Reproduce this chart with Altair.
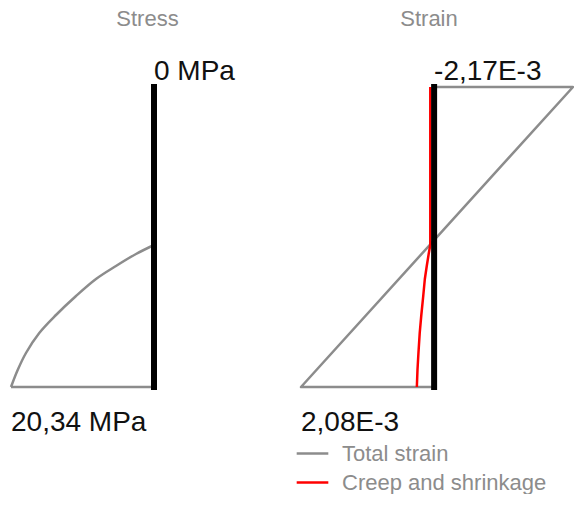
import altair as alt
import pandas as pd

FONT = "Liberation Sans"
GRAY = "#8c8c8c"

# Section height (mm), bottom to top
section_z = [0, 300]

# Stress block (MPa) along the height z (mm)
stress_curve_z = [142, 133, 121, 108, 91, 72, 54, 34, 17, 0]
stress_curve_val = [0, 2.56, 5.41, 8.25, 11.09, 13.94, 16.32, 18.21, 19.39, 20.34]
stress_top = 0.0
stress_bottom = 20.34

# Strains (E-3)
strain_top = -2.17
strain_bottom = 2.08
total_z = [300, 300, 0, 0]
total_val = [0, strain_top, strain_bottom, 0]

creep_z = [300, 142, 133, 121, 108, 91, 72, 54, 34, 17, 0]
creep_val = [0.06, 0.06, 0.085, 0.115, 0.145, 0.17, 0.20, 0.225, 0.245, 0.26, 0.27]

series_names = ["Total strain", "Creep and shrinkage"]
series_colors = ["#8c8c8c", "#ff0000"]


def fmt(v, unit=""):
    return f"{v:.2f}".replace(".", ",") + unit


# ---------- data frames ----------
stress_df = pd.DataFrame({"z": stress_curve_z, "v": stress_curve_val,
                          "i": range(len(stress_curve_z))})
edge_df = pd.DataFrame({"v": [stress_bottom], "v2": [0.0], "z": [section_z[0]]})
bar_df = pd.DataFrame({"x": [0.0], "z": [section_z[1]], "z2": [section_z[0]]})

stress_lbl = pd.DataFrame({
    "v": [stress_top, stress_bottom],
    "z": [section_z[1], section_z[0]],
    "t": [f"{stress_top:g} MPa", fmt(stress_bottom, " MPa")],
    "pos": ["top", "bottom"],
})

strain_df = pd.concat([
    pd.DataFrame({"z": total_z, "v": total_val, "i": range(len(total_z)),
                  "s": series_names[0]}),
    pd.DataFrame({"z": creep_z, "v": creep_val, "i": range(len(creep_z)),
                  "s": series_names[1]}),
])
strain_lbl = pd.DataFrame({
    "v": [0.0, strain_bottom],
    "z": [section_z[1], section_z[0]],
    "t": [fmt(strain_top, "E-3"), fmt(strain_bottom, "E-3")],
    "pos": ["top", "bottom"],
})

yscale = alt.Scale(domain=[section_z[0], section_z[1]], nice=False, zero=False)
xs_stress = alt.Scale(domain=[0, stress_bottom], reverse=True, nice=False, zero=False)
xs_strain = alt.Scale(domain=[strain_top, strain_bottom], reverse=True, nice=False, zero=False)


def labels(df, xscale):
    top = alt.Chart(df[df.pos == "top"]).mark_text(
        align="left", baseline="alphabetic", dy=-7, fontSize=28, font=FONT, color="#111"
    ).encode(x=alt.X("v:Q", scale=xscale, axis=None),
             y=alt.Y("z:Q", scale=yscale, axis=None), text="t:N")
    bot = alt.Chart(df[df.pos == "bottom"]).mark_text(
        align="left", baseline="alphabetic", dy=44, fontSize=28, font=FONT, color="#111"
    ).encode(x=alt.X("v:Q", scale=xscale, axis=None),
             y=alt.Y("z:Q", scale=yscale, axis=None), text="t:N")
    return top + bot


def bar(xscale):
    return alt.Chart(bar_df).mark_rule(color="black", strokeWidth=6, strokeCap="square").encode(
        x=alt.X("x:Q", scale=xscale, axis=None),
        y=alt.Y("z:Q", scale=yscale, axis=None), y2="z2:Q")


stress_curve = alt.Chart(stress_df).mark_line(
    color=GRAY, strokeWidth=2.5, interpolate="catmull-rom", strokeJoin="round"
).encode(x=alt.X("v:Q", scale=xs_stress, axis=None),
         y=alt.Y("z:Q", scale=yscale, axis=None), order="i:Q")
stress_edge = alt.Chart(edge_df).mark_rule(color=GRAY, strokeWidth=2.5).encode(
    x=alt.X("v:Q", scale=xs_stress, axis=None), x2="v2:Q",
    y=alt.Y("z:Q", scale=yscale, axis=None))

stress_panel = alt.layer(
    stress_curve, stress_edge, bar(xs_stress), labels(stress_lbl, xs_stress)
).properties(
    width=143, height=300,
    title=alt.TitleParams("Stress", fontSize=22, color=GRAY, font=FONT, fontWeight="normal",
                          anchor="middle", baseline="alphabetic", offset=10, dx=65),
)

strain_lines = alt.Chart(strain_df).mark_line(
    strokeWidth=2.5, interpolate="linear", strokeJoin="round"
).encode(
    x=alt.X("v:Q", scale=xs_strain, axis=None),
    y=alt.Y("z:Q", scale=yscale, axis=None),
    order="i:Q",
    color=alt.Color("s:N", scale=alt.Scale(domain=series_names, range=series_colors),
                    sort=series_names,
                    legend=alt.Legend(orient="none", legendX=284, legendY=349, title=None,
                                      symbolType="stroke", symbolSize=1000,
                                      symbolStrokeWidth=2.5, labelFontSize=22,
                                      labelColor=GRAY, labelFont=FONT, rowPadding=0,
                                      labelOffset=12, labelLimit=400)),
)

strain_panel = alt.layer(
    strain_lines, bar(xs_strain), labels(strain_lbl, xs_strain)
).properties(
    width=272, height=300,
    title=alt.TitleParams("Strain", fontSize=22, color=GRAY, font=FONT, fontWeight="normal",
                          anchor="middle", baseline="alphabetic", offset=10, dx=-8),
)

chart = alt.hconcat(stress_panel, strain_panel, spacing=147, bounds="flush").properties(
    padding={"left": 1, "top": 0, "right": -1.5, "bottom": 0}
).configure_view(stroke=None)

chart.save("out.html", embed_options={"renderer": "svg", "actions": False})
